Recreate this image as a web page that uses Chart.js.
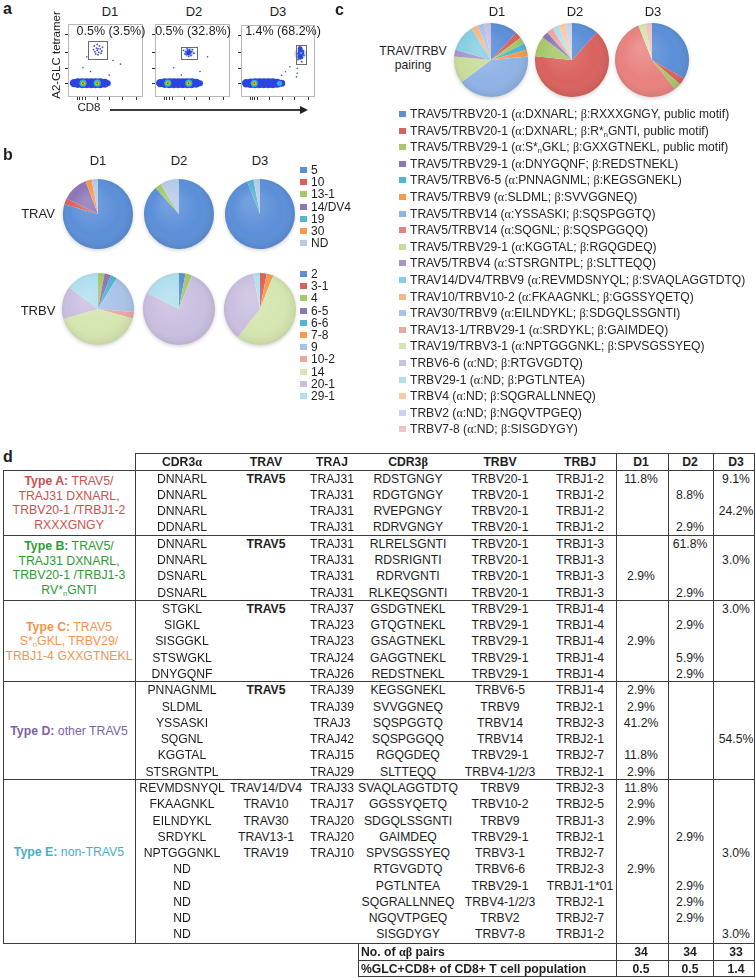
<!DOCTYPE html>
<html><head><meta charset="utf-8">
<script src="https://cdn.jsdelivr.net/npm/chart.js@4.4.1/dist/chart.umd.min.js"></script>
<style>
html,body{margin:0;padding:0;background:#fff;}
#fig{position:relative;width:756px;height:978px;overflow:hidden;font-family:"Liberation Sans",Arial,sans-serif;color:#1e1e1e;}
.t{position:absolute;white-space:nowrap;line-height:1;}
.g{font-family:"Liberation Serif","DejaVu Serif",serif;}
.ln{position:absolute;background:#3c3c3c;}
.sq{position:absolute;width:7px;height:6px;}
canvas{position:absolute;}
sub{font-size:0.62em;vertical-align:-0.25em;line-height:0;}
</style></head><body><div id="fig"></div>
<script>
// ---- panel a: tetramer staining ----
var donors=['D1','D2','D3'];
var flowPct=['0.5% (3.5%)','0.5% (32.8%)','1.4% (68.2%)'];
var flowGates=[[27,52,52,77],[35,56,52,68],[74,88,45,72]];
var flowXTicks=[12,15,18,22,38,55,72,90];
var flowYTicks=[19,40,62,86];
// [x, y, radius px, density level]
var flowD1=[[8,19,4.2,1],[13,19,4.8,1],[19,19,5,1],[25,19,5,1],[31,19,5,1],[37,19,5,1],[43,19,5,1],[49,19,4.5,1],[53,19,3,1],
  [20,19,3.6,2],[39,19,3.6,2],[20,19,2.6,3],[39,19,2.6,3],[20,19,1.7,4],[39,19,1.7,4],[20,19,1,5],[39,19,1,5],
  [36,62,0.9,6],[39,64,0.9,6],[41,61,0.9,6],[43,66,0.9,6],[38,67,0.9,6],[40,58,0.9,6],[45,63,0.9,6],[34,65,0.9,6],
  [42,70,0.9,6],[37,59,0.9,6],[44,60,0.9,6],[40,66,0.9,6],[35,70,0.9,6],[46,68,0.9,6],[39,72,0.9,6],
  [20,40,0.8,6],[55,30,0.8,6],[30,35,0.8,6],[60,50,0.8,6],[25,55,0.8,6],[70,45,0.8,6]];
var flowD2=[[7,19,4.2,1],[13,19,4.8,1],[19,19,5,1],[25,19,5,1],[31,19,5,1],[37,19,5,1],[43,19,5,1],[49,19,5,1],[55,19,4.5,1],[60,19,3,1],
  [17,19,3.6,2],[45,19,3.6,2],[17,19,2.6,3],[45,19,2.6,3],[17,19,1.7,4],[45,19,1.7,4],[17,19,1,5],[45,19,1,5],
  [45,61,5,0],[45,61,2.6,1],[42,58,0.9,6],[44,64,0.9,6],[47,60,0.9,6],[46,65,0.9,6],[41,62,0.9,6],[48,57,0.9,6],
  [43,66,0.9,6],[49,62,0.9,6],[45,56,0.9,6],[40,59,0.9,6],[50,65,0.9,6],[38,64,0.9,6],[52,60,0.9,6],
  [25,40,0.8,6],[60,35,0.8,6],[35,30,0.8,6],[70,55,0.8,6]];
var flowD3=[[7,19,4.2,1],[13,19,4.8,1],[19,19,5,1],[25,19,5,1],[31,19,5,1],[37,19,5,1],[43,19,5,1],[49,19,4.5,1],[55,19,3.5,1],
  [52,19,2.6,2],[18,19,3.6,2],[18,19,2.6,3],[18,19,1.7,4],[18,19,1,5],
  [80,60,6,0],[80,56,2.8,1],[81,62,3.2,1],[80,67,2.4,1],[81,61,1.4,2],
  [77,52,0.9,6],[83,54,0.9,6],[78,68,0.9,6],[84,64,0.9,6],[76,60,0.9,6],[85,58,0.9,6],[79,71,0.9,6],[82,49,0.9,6],
  [76,40,0.8,6],[76,33,0.8,6],[75,28,0.8,6],[60,35,0.8,6],[66,42,0.8,6],[55,30,0.8,6]];
var flowColors=['rgba(110,140,235,0.35)','#2a44e0','#35a8f0','#3ccf3c','#f0e21a','#e5281c','#3a4fd8'];

// ---- panel b: V gene usage ----
var travLabels=['5','10','13-1','14/DV4','19','30','ND'];
var travD1=[79.3,2.9,0,11.8,0,2.9,2.9];
var travD2=[88.1,0,2.9,0,0,0,8.7];
var travD3=[93.8,0,0,0,3.0,0,3.0];
var travColors=['#5b8fd8','#d9625e','#a6c86a','#8e76b6','#52b6d0','#f79a4e','#b7cbe8'];
var trbvLabels=['2','3-1','4','6-5','6-6','7-8','9','10-2','14','20-1','29-1'];
var trbvD1=[0,0,2.9,2.9,2.9,0,17.6,2.9,41.2,14.7,14.7];
var trbvD2=[2.9,0,2.9,0,0,0,0,0,0,76.4,17.5];
var trbvD3=[0,3.0,0,0,0,3.0,0,0,54.5,36.3,3.0];
var trbvColors=['#5b8fd8','#d9625e','#a6c86a','#8e76b6','#52b6d0','#f79a4e','#a9c4ea','#eba7a5','#d5e6b0','#cbbfe0','#b0dfee'];

// ---- panel c: TRAV/TRBV pairing ----
var pairLabels=[
  'TRAV5/TRBV20-1 (α:DXNARL; β:RXXXGNGY, public motif)',
  'TRAV5/TRBV20-1 (α:DXNARL; β:R*<sub>n</sub>GNTI, public motif)',
  'TRAV5/TRBV29-1 (α:S*<sub>n</sub>GKL; β:GXXGTNEKL, public motif)',
  'TRAV5/TRBV29-1 (α:DNYGQNF; β:REDSTNEKL)',
  'TRAV5/TRBV6-5 (α:PNNAGNML; β:KEGSGNEKL)',
  'TRAV5/TRBV9 (α:SLDML; β:SVVGGNEQ)',
  'TRAV5/TRBV14 (α:YSSASKI; β:SQSPGGTQ)',
  'TRAV5/TRBV14 (α:SQGNL; β:SQSPGGQQ)',
  'TRAV5/TRBV29-1 (α:KGGTAL; β:RGQGDEQ)',
  'TRAV5/TRBV4 (α:STSRGNTPL; β:SLTTEQQ)',
  'TRAV14/DV4/TRBV9 (α:REVMDSNYQL; β:SVAQLAGGTDTQ)',
  'TRAV10/TRBV10-2 (α:FKAAGNKL; β:GGSSYQETQ)',
  'TRAV30/TRBV9 (α:EILNDYKL; β:SDGQLSSGNTI)',
  'TRAV13-1/TRBV29-1 (α:SRDYKL; β:GAIMDEQ)',
  'TRAV19/TRBV3-1 (α:NPTGGGNKL; β:SPVSGSSYEQ)',
  'TRBV6-6 (α:ND; β:RTGVGDTQ)',
  'TRBV29-1 (α:ND; β:PGTLNTEA)',
  'TRBV4 (α:ND; β:SQGRALLNNEQ)',
  'TRBV2 (α:ND; β:NGQVTPGEQ)',
  'TRBV7-8 (α:ND; β:SISGDYGY)'];
var pairD1=[11.8,2.9,2.9,0,2.9,2.9,41.2,0,11.8,2.9,11.8,2.9,2.9,0,0,2.9,0,0,0,0];
var pairD2=[11.7,64.7,8.8,2.9,0,0,0,0,0,0,0,0,0,2.9,0,0,2.9,2.9,2.9,0];
var pairD3=[33.3,3.0,3.0,0,0,0,0,54.5,0,0,0,0,0,0,3.0,0,0,0,0,3.0];
var pairColors=['#5b8fd8','#d9625e','#a6c86a','#8e76b6','#52b6d0','#f79a4e','#8fb3e6','#e8827e','#c9dd9a','#a896c8',
  '#86cfe2','#f9b682','#a9c4ea','#eba7a5','#d5e6b0','#cbbfe0','#b0dfee','#fbcaa4','#c7d5ec','#f0c3c3'];

// ---- panel d: clonotype table ----
var tblHeaders=['CDR3α','TRAV','TRAJ','CDR3β','TRBV','TRBJ','D1','D2','D3'];
var cdr3a=['DNNARL','DNNARL','DNNARL','DDNARL','DNNARL','DNNARL','DSNARL','DSNARL','STGKL','SIGKL','SISGGKL','STSWGKL','DNYGQNF',
  'PNNAGNML','SLDML','YSSASKI','SQGNL','KGGTAL','STSRGNTPL','REVMDSNYQL','FKAAGNKL','EILNDYKL','SRDYKL','NPTGGGNKL','ND','ND','ND','ND','ND'];
var travCol=['TRAV5','','','','TRAV5','','','','TRAV5','','','','','TRAV5','','','','','',
  'TRAV14/DV4','TRAV10','TRAV30','TRAV13-1','TRAV19','','','','',''];
var trajCol=['TRAJ31','TRAJ31','TRAJ31','TRAJ31','TRAJ31','TRAJ31','TRAJ31','TRAJ31','TRAJ37','TRAJ23','TRAJ23','TRAJ24','TRAJ26',
  'TRAJ39','TRAJ39','TRAJ3','TRAJ42','TRAJ15','TRAJ29','TRAJ33','TRAJ17','TRAJ20','TRAJ20','TRAJ10','','','','',''];
var cdr3b=['RDSTGNGY','RDGTGNGY','RVEPGNGY','RDRVGNGY','RLRELSGNTI','RDSRIGNTI','RDRVGNTI','RLKEQSGNTI','GSDGTNEKL','GTQGTNEKL',
  'GSAGTNEKL','GAGGTNEKL','REDSTNEKL','KEGSGNEKL','SVVGGNEQ','SQSPGGTQ','SQSPGGQQ','RGQGDEQ','SLTTEQQ','SVAQLAGGTDTQ','GGSSYQETQ',
  'SDGQLSSGNTI','GAIMDEQ','SPVSGSSYEQ','RTGVGDTQ','PGTLNTEA','SQGRALLNNEQ','NGQVTPGEQ','SISGDYGY'];
var trbvCol=['TRBV20-1','TRBV20-1','TRBV20-1','TRBV20-1','TRBV20-1','TRBV20-1','TRBV20-1','TRBV20-1','TRBV29-1','TRBV29-1','TRBV29-1',
  'TRBV29-1','TRBV29-1','TRBV6-5','TRBV9','TRBV14','TRBV14','TRBV29-1','TRBV4-1/2/3','TRBV9','TRBV10-2','TRBV9','TRBV29-1','TRBV3-1',
  'TRBV6-6','TRBV29-1','TRBV4-1/2/3','TRBV2','TRBV7-8'];
var trbjCol=['TRBJ1-2','TRBJ1-2','TRBJ1-2','TRBJ1-2','TRBJ1-3','TRBJ1-3','TRBJ1-3','TRBJ1-3','TRBJ1-4','TRBJ1-4','TRBJ1-4','TRBJ1-4',
  'TRBJ1-4','TRBJ1-4','TRBJ2-1','TRBJ2-3','TRBJ2-1','TRBJ2-7','TRBJ2-1','TRBJ2-3','TRBJ2-5','TRBJ1-3','TRBJ2-1','TRBJ2-7','TRBJ2-3',
  'TRBJ1-1*01','TRBJ2-1','TRBJ2-7','TRBJ1-2'];
var freqD1=['11.8%','','','','','','2.9%','','','','2.9%','','','2.9%','2.9%','41.2%','','11.8%','2.9%','11.8%','2.9%','2.9%','','',
  '2.9%','','','',''];
var freqD2=['','8.8%','','2.9%','61.8%','','','2.9%','','2.9%','','5.9%','2.9%','','','','','','','','','','2.9%','','','2.9%','2.9%','2.9%',''];
var freqD3=['9.1%','','24.2%','','','3.0%','','','3.0%','','','','','','','','54.5%','','','','','','','3.0%','','','','','3.0%'];
var groupStart=[0,4,8,13,19,29];
var groupTitle=['Type A:','Type B:','Type C:','Type D:','Type E:'];
var groupLines=[['TRAV5/','TRAJ31 DXNARL,','TRBV20-1 /TRBJ1-2','RXXXGNGY'],
  ['TRAV5/','TRAJ31 DXNARL,','TRBV20-1 /TRBJ1-3','RV*<sub>n</sub>GNTI'],
  ['TRAV5','S*<sub>n</sub>GKL, TRBV29/','TRBJ1-4 GXXGTNEKL'],
  ['other TRAV5'],['non-TRAV5']];
var groupColors=['#cf4f4c','#2f9a35','#f5934a','#7d62a8','#46aecb'];
var pairCounts=['34','34','33'];
var glcPct=['0.5','0.5','1.4'];

var fig=document.getElementById('fig');
function gk(s){ return s.replace(/([αβ])/g,'<span class="g">$1</span>'); }
function T(html,x,y,size,extra,align){
  var d=document.createElement('div'); d.className='t'; d.innerHTML=html;
  d.style.left=x+'px'; d.style.top=y+'px'; d.style.fontSize=size+'px';
  d.style.transform=align==='l'?'translate(0,-50%)':'translate(-50%,-50%)';
  if(extra) d.style.cssText+=extra;
  fig.appendChild(d); return d;
}
function hl(x1,x2,y,h){ var d=document.createElement('div'); d.className='ln'; d.style.left=x1+'px'; d.style.top=y+'px'; d.style.width=(x2-x1)+'px'; d.style.height=(h||1)+'px'; fig.appendChild(d); }
function vl(x,y1,y2){ var d=document.createElement('div'); d.className='ln'; d.style.left=x+'px'; d.style.top=y1+'px'; d.style.width='1px'; d.style.height=(y2-y1)+'px'; fig.appendChild(d); }
function sq(x,y,col){ var d=document.createElement('div'); d.className='sq'; d.style.left=x+'px'; d.style.top=(y-3)+'px'; d.style.background=col; fig.appendChild(d); }

var pieShade={id:'pieShade',
  beforeDatasetsDraw:function(ch){ var a=ch.getDatasetMeta(0).data[0]; if(!a) return; var c=ch.ctx;
    c.save(); c.shadowColor='rgba(0,0,0,0.22)'; c.shadowBlur=4; c.shadowOffsetY=1.5; c.fillStyle='#fff';
    c.beginPath(); c.arc(a.x,a.y,a.outerRadius-0.5,0,Math.PI*2); c.fill(); c.restore(); },
  afterDatasetsDraw:function(ch){ var a=ch.getDatasetMeta(0).data[0]; if(!a) return; var c=ch.ctx, R=a.outerRadius;
    c.save(); c.beginPath(); c.arc(a.x,a.y,R,0,Math.PI*2); c.clip();
    var g=c.createRadialGradient(a.x-R*0.3,a.y-R*0.35,R*0.1,a.x,a.y,R*1.05);
    g.addColorStop(0,'rgba(255,255,255,0.16)'); g.addColorStop(0.65,'rgba(255,255,255,0)'); g.addColorStop(1,'rgba(0,0,0,0.10)');
    c.fillStyle=g; c.fillRect(a.x-R,a.y-R,2*R,2*R); c.restore(); }
};
function pie(cx,cy,r,labels,values,colors){
  var cv=document.createElement('canvas'); var s=2*r+10;
  cv.width=s; cv.height=s; cv.style.left=(cx-s/2)+'px'; cv.style.top=(cy-s/2)+'px'; fig.appendChild(cv);
  new Chart(cv.getContext('2d'),{type:'pie',
    data:{labels:labels,datasets:[{data:values,backgroundColor:colors,borderWidth:0,offset:0,hoverOffset:0}]},
    options:{responsive:false,animation:false,events:[],radius:r,layout:{padding:5},
      plugins:{legend:{display:false},tooltip:{enabled:false}}},
    plugins:[pieShade]});
}
function flow(i,pts){
  var bx=[68,155,241][i], by=20, s=77;
  var cv=document.createElement('canvas'); cv.width=s+9; cv.height=s+7;
  cv.style.left=(bx-6)+'px'; cv.style.top=(by-1)+'px'; fig.appendChild(cv);
  var gate=flowGates[i];
  var frame={id:'frame',afterDraw:function(ch){
    var c=ch.ctx,a=ch.chartArea,sx=ch.scales.x,sy=ch.scales.y;
    c.save(); c.strokeStyle='#b8b8b8'; c.lineWidth=1;
    c.strokeRect(a.left+0.5,a.top+0.5,a.right-a.left-1,a.bottom-a.top-1);
    c.strokeStyle='#333'; c.beginPath();
    flowXTicks.forEach(function(v){ var x=Math.round(sx.getPixelForValue(v))+0.5; c.moveTo(x,a.bottom); c.lineTo(x,a.bottom+3); });
    flowYTicks.forEach(function(v){ var y=Math.round(sy.getPixelForValue(v))+0.5; c.moveTo(a.left-3,y); c.lineTo(a.left,y); });
    c.stroke();
    c.strokeStyle='#6a6a6a';
    var x1=sx.getPixelForValue(gate[0]),x2=sx.getPixelForValue(gate[1]),y1=sy.getPixelForValue(gate[3]),y2=sy.getPixelForValue(gate[2]);
    c.strokeRect(Math.round(x1)+0.5,Math.round(y1)+0.5,Math.round(x2-x1),Math.round(y2-y1));
    c.restore(); }};
  new Chart(cv.getContext('2d'),{type:'bubble',
    data:{datasets:[{data:pts.map(function(p){return {x:p[0],y:p[1],r:p[2]};}),
      backgroundColor:pts.map(function(p){return flowColors[p[3]];}),borderWidth:0,hoverRadius:0}]},
    options:{responsive:false,animation:false,events:[],layout:{padding:{left:6,top:1,right:3,bottom:6}},
      scales:{x:{display:false,min:0,max:100},y:{display:false,min:0,max:100}},
      plugins:{legend:{display:false},tooltip:{enabled:false}}},
    plugins:[frame]});
}

// panel a
T('a',3,9,16,'font-weight:bold;','l');
[110,194,278].forEach(function(x,i){ T(donors[i],x,11,13); });
flow(0,flowD1); flow(1,flowD2); flow(2,flowD3);
[111,193,283].forEach(function(x,i){ T(flowPct[i],x,31,12.5); });
T('A2-GLC tetramer',57,55,11.5,'transform:translate(-50%,-50%) rotate(-90deg);');
T('CD8',89,108,11.5);
hl(110,302,109,1.6);
var ah=document.createElement('div');
ah.style.cssText='position:absolute;left:300px;top:105.8px;width:0;height:0;border-top:4px solid transparent;border-bottom:4px solid transparent;border-left:8px solid #222;';
fig.appendChild(ah);

// panel b
T('b',3,155,16,'font-weight:bold;','l');
[98,179,260].forEach(function(x,i){ T(donors[i],x,160,13); });
T('TRAV',38,213,13); T('TRBV',38,310,13);
pie(98,214,35,travLabels,travD1,travColors); pie(179,214,35,travLabels,travD2,travColors); pie(260,214,35,travLabels,travD3,travColors);
pie(98,309,36,trbvLabels,trbvD1,trbvColors); pie(179,309,36,trbvLabels,trbvD2,trbvColors); pie(260,309,36,trbvLabels,trbvD3,trbvColors);
travLabels.forEach(function(l,i){ var y=170+12.2*i; sq(300,y,travColors[i]); T(l,311,y,12,'','l'); });
trbvLabels.forEach(function(l,i){ var y=274+12.2*i; sq(300,y,trbvColors[i]); T(l,311,y,12,'','l'); });

// panel c
T('c',335,10,16,'font-weight:bold;','l');
[497,575,653].forEach(function(x,i){ T(donors[i],x,11,13); });
T('TRAV/TRBV',413,51,12.2); T('pairing',413,65,12.2);
pie(491,60,37,pairLabels,pairD1,pairColors); pie(572,60,37,pairLabels,pairD2,pairColors); pie(652,60,37,pairLabels,pairD3,pairColors);
pairLabels.forEach(function(l,i){ var y=114+16.6*i; sq(399,y,pairColors[i]); T(gk(l),410,y,12.1,'color:#262626;','l'); });

// panel d
T('d',3,457,16,'font-weight:bold;','l');
var colX=[182,266,332,408,500,580,641,690,736];
var tblTop=470.5, rowH=16.28;
tblHeaders.forEach(function(h,j){ T(gk(h),colX[j],462,12.2,'font-weight:bold;'); });
cdr3a.forEach(function(v,i){
  var y=tblTop+rowH*(i+0.5);
  var cells=[cdr3a[i],travCol[i],trajCol[i],cdr3b[i],trbvCol[i],trbjCol[i],freqD1[i],freqD2[i],freqD3[i]];
  cells.forEach(function(c,j){ if(c) T(c,colX[j],y,12.2,c==='TRAV5'?'font-weight:bold;':''); });
});
groupTitle.forEach(function(t,k){
  var lines=groupLines[k], mid=tblTop+rowH*(groupStart[k]+groupStart[k+1])/2 - (k===4?9:0), lh=14.5;
  lines.forEach(function(s,m){
    var y=mid+(m-(lines.length-1)/2)*lh;
    T((m===0?'<b>'+t+'</b> ':'')+s,69,y,12.3,'color:'+groupColors[k]+';');
  });
});
hl(135,755,453); hl(3,755,470);
[4,8,13,19].forEach(function(g){ hl(3,755,Math.round(tblTop+rowH*g)-1); });
var tblBot=Math.round(tblTop+rowH*29);
hl(3,755,tblBot);
vl(3,470,tblBot+1); vl(135,453,tblBot); vl(616,453,977); vl(668,453,977); vl(713,453,977); vl(754,453,977);
vl(358,tblBot,977); hl(358,755,960); hl(358,755,976);
T('No. of '+gk('αβ')+' pairs',361,952,12.2,'font-weight:bold;','l');
T('%GLC+CD8+ of CD8+ T cell population',361,968.5,12.2,'font-weight:bold;','l');
[641,690,736].forEach(function(x,i){ T(pairCounts[i],x,952,12.2,'font-weight:bold;'); T(glcPct[i],x,968.5,12.2,'font-weight:bold;'); });
</script></body></html>
